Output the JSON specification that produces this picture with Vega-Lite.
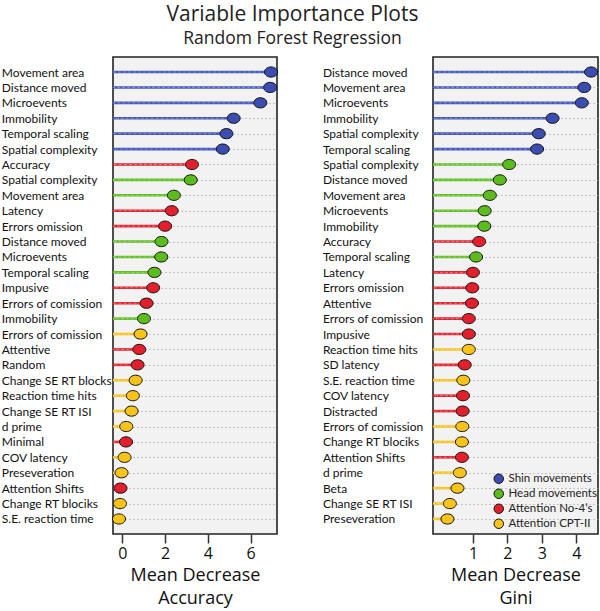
{
  "$schema": "https://vega.github.io/schema/vega-lite/v6.json",
  "padding": {"top": 3, "left": 0, "right": 0, "bottom": 0},
  "background": "white",
  "title": {"text": "Variable Importance Plots", "subtitle": "Random Forest Regression", "anchor": "middle", "font": "Open Sans", "fontSize": 21, "fontWeight": "normal", "subtitleFont": "Open Sans", "subtitleFontSize": 17.5, "color": "#222", "subtitleColor": "#222", "subtitlePadding": 5, "offset": 9, "dx": -8},
  "datasets": {
    "acc": [
      {"key": "01|Movement area", "group": "Shin movements", "value": 6.96},
      {"key": "02|Distance moved", "group": "Shin movements", "value": 6.92},
      {"key": "03|Microevents", "group": "Shin movements", "value": 6.46},
      {"key": "04|Immobility", "group": "Shin movements", "value": 5.21},
      {"key": "05|Temporal scaling", "group": "Shin movements", "value": 4.87},
      {"key": "06|Spatial complexity", "group": "Shin movements", "value": 4.70},
      {"key": "07|Accuracy", "group": "Attention No-4’s", "value": 3.26},
      {"key": "08|Spatial complexity", "group": "Head movements", "value": 3.20},
      {"key": "09|Movement area", "group": "Head movements", "value": 2.41},
      {"key": "10|Latency", "group": "Attention No-4’s", "value": 2.31},
      {"key": "11|Errors omission", "group": "Attention No-4’s", "value": 2.00},
      {"key": "12|Distance moved", "group": "Head movements", "value": 1.83},
      {"key": "13|Microevents", "group": "Head movements", "value": 1.82},
      {"key": "14|Temporal scaling", "group": "Head movements", "value": 1.50},
      {"key": "15|Impusive", "group": "Attention No-4’s", "value": 1.44},
      {"key": "16|Errors of comission", "group": "Attention No-4’s", "value": 1.13},
      {"key": "17|Immobility", "group": "Head movements", "value": 1.01},
      {"key": "18|Errors of comission", "group": "Attention CPT-II", "value": 0.85},
      {"key": "19|Attentive", "group": "Attention No-4’s", "value": 0.79},
      {"key": "20|Random", "group": "Attention No-4’s", "value": 0.71},
      {"key": "21|Change SE RT blocks", "group": "Attention CPT-II", "value": 0.62},
      {"key": "22|Reaction time hits", "group": "Attention CPT-II", "value": 0.49},
      {"key": "23|Change SE RT ISI", "group": "Attention CPT-II", "value": 0.43},
      {"key": "24|d prime", "group": "Attention CPT-II", "value": 0.18},
      {"key": "25|Minimal", "group": "Attention No-4’s", "value": 0.17},
      {"key": "26|COV latency", "group": "Attention CPT-II", "value": 0.10},
      {"key": "27|Preseveration", "group": "Attention CPT-II", "value": -0.04},
      {"key": "28|Attention Shifts", "group": "Attention No-4’s", "value": -0.09},
      {"key": "29|Change RT blociks", "group": "Attention CPT-II", "value": -0.11},
      {"key": "30|S.E. reaction time", "group": "Attention CPT-II", "value": -0.16}
    ],
    "gini": [
      {"key": "01|Distance moved", "group": "Shin movements", "value": 4.43},
      {"key": "02|Movement area", "group": "Shin movements", "value": 4.23},
      {"key": "03|Microevents", "group": "Shin movements", "value": 4.16},
      {"key": "04|Immobility", "group": "Shin movements", "value": 3.31},
      {"key": "05|Spatial complexity", "group": "Shin movements", "value": 2.91},
      {"key": "06|Temporal scaling", "group": "Shin movements", "value": 2.86},
      {"key": "07|Spatial complexity", "group": "Head movements", "value": 2.05},
      {"key": "08|Distance moved", "group": "Head movements", "value": 1.78},
      {"key": "09|Movement area", "group": "Head movements", "value": 1.49},
      {"key": "10|Microevents", "group": "Head movements", "value": 1.34},
      {"key": "11|Immobility", "group": "Head movements", "value": 1.33},
      {"key": "12|Accuracy", "group": "Attention No-4’s", "value": 1.18},
      {"key": "13|Temporal scaling", "group": "Head movements", "value": 1.09},
      {"key": "14|Latency", "group": "Attention No-4’s", "value": 1.00},
      {"key": "15|Errors omission", "group": "Attention No-4’s", "value": 0.98},
      {"key": "16|Attentive", "group": "Attention No-4’s", "value": 0.97},
      {"key": "17|Errors of comission", "group": "Attention No-4’s", "value": 0.88},
      {"key": "18|Impusive", "group": "Attention No-4’s", "value": 0.88},
      {"key": "19|Reaction time hits", "group": "Attention CPT-II", "value": 0.88},
      {"key": "20|SD latency", "group": "Attention No-4’s", "value": 0.76},
      {"key": "21|S.E. reaction time", "group": "Attention CPT-II", "value": 0.72},
      {"key": "22|COV latency", "group": "Attention No-4’s", "value": 0.71},
      {"key": "23|Distracted", "group": "Attention No-4’s", "value": 0.70},
      {"key": "24|Errors of comission", "group": "Attention CPT-II", "value": 0.69},
      {"key": "25|Change RT blociks", "group": "Attention CPT-II", "value": 0.68},
      {"key": "26|Attention Shifts", "group": "Attention No-4’s", "value": 0.68},
      {"key": "27|d prime", "group": "Attention CPT-II", "value": 0.62},
      {"key": "28|Beta", "group": "Attention CPT-II", "value": 0.55},
      {"key": "29|Change SE RT ISI", "group": "Attention CPT-II", "value": 0.33},
      {"key": "30|Preseveration", "group": "Attention CPT-II", "value": 0.26}
    ]
  },
  "spacing": 40,
  "resolve": {"scale": {"x": "independent", "y": "independent", "stroke": "independent", "color": "independent"}, "legend": {"stroke": "independent", "color": "independent"}},
  "hconcat": [
    {
      "width": 164,
      "height": 477,
      "data": {"name": "acc"},
      "encoding": {
        "y": {"field": "key", "type": "ordinal", "sort": "ascending", "scale": {"type": "point", "padding": 0.975}, "axis": {"title": null, "labelPadding": 111.7, "labelExpr": "split(datum.value, '|')[1]"}}
      },
      "layer": [
        {
          "mark": {"type": "rule", "strokeWidth": 2.6},
          "encoding": {
            "x": {"field": "value", "type": "quantitative", "scale": {"domain": [-0.44, 7.24], "nice": false, "zero": false}, "axis": {"values": [0, 2, 4, 6], "title": ["Mean Decrease", "Accuracy"]}},
            "x2": {"datum": -0.44},
            "stroke": {"field": "group", "type": "nominal", "scale": {"domain": ["Attention CPT-II", "Attention No-4’s", "Head movements", "Shin movements"], "range": ["#f7c21c", "#e2232f", "#5fbe22", "#4456bb"]}, "legend": null}
          }
        },
        {
          "mark": {"type": "rule", "strokeWidth": 1, "strokeDash": [3, 2], "color": "white", "opacity": 0.35},
          "encoding": {"x": {"field": "value", "type": "quantitative"}, "x2": {"datum": -0.44}}
        },
        {
          "mark": {"type": "point", "filled": true, "shape": "M -1 0 A 1 0.78 0 1 1 1 0 A 1 0.78 0 1 1 -1 0 Z", "size": 170, "stroke": "#111", "strokeWidth": 1, "opacity": 1},
          "encoding": {
            "x": {"field": "value", "type": "quantitative"},
            "color": {"field": "group", "type": "nominal", "scale": {"domain": ["Shin movements", "Head movements", "Attention No-4’s", "Attention CPT-II"], "range": ["#3b4db0", "#5cbc1e", "#e11f2d", "#f8c31b"]}, "legend": null}
          }
        }
      ]
    },
    {
      "width": 165,
      "height": 477,
      "data": {"name": "gini"},
      "encoding": {
        "y": {"field": "key", "type": "ordinal", "sort": "ascending", "scale": {"type": "point", "padding": 0.975}, "axis": {"title": null, "labelPadding": 110.6, "labelExpr": "split(datum.value, '|')[1]"}}
      },
      "layer": [
        {
          "mark": {"type": "rule", "strokeWidth": 2.6},
          "encoding": {
            "x": {"field": "value", "type": "quantitative", "scale": {"domain": [-0.16, 4.63], "nice": false, "zero": false}, "axis": {"values": [1, 2, 3, 4], "title": ["Mean Decrease", "Gini"]}},
            "x2": {"datum": -0.16},
            "stroke": {"field": "group", "type": "nominal", "scale": {"domain": ["Attention CPT-II", "Attention No-4’s", "Head movements", "Shin movements"], "range": ["#f7c21c", "#e2232f", "#5fbe22", "#4456bb"]}, "legend": null}
          }
        },
        {
          "mark": {"type": "rule", "strokeWidth": 1, "strokeDash": [3, 2], "color": "white", "opacity": 0.35},
          "encoding": {"x": {"field": "value", "type": "quantitative"}, "x2": {"datum": -0.16}}
        },
        {
          "mark": {"type": "point", "filled": true, "shape": "M -1 0 A 1 0.78 0 1 1 1 0 A 1 0.78 0 1 1 -1 0 Z", "size": 170, "stroke": "#111", "strokeWidth": 1, "opacity": 1},
          "encoding": {
            "x": {"field": "value", "type": "quantitative"},
            "color": {"field": "group", "type": "nominal", "scale": {"domain": ["Shin movements", "Head movements", "Attention No-4’s", "Attention CPT-II"], "range": ["#3b4db0", "#5cbc1e", "#e11f2d", "#f8c31b"]},
              "legend": {"title": null, "orient": "none", "legendX": 60, "legendY": 416, "symbolType": "circle", "symbolSize": 90, "symbolStrokeColor": "#111", "symbolStrokeWidth": 1, "symbolOpacity": 1, "labelFont": "Lato", "labelFontSize": 11.5, "labelColor": "#222", "rowPadding": 1, "labelOffset": 4, "labelLimit": 200, "padding": 0}}
          }
        }
      ]
    }
  ],
  "config": {
    "view": {"fill": "#f2f2f2", "stroke": "#222", "strokeWidth": 1.6},
    "axisY": {"domain": false, "ticks": false, "labelAlign": "left", "labelFont": "Lato", "labelFontSize": 12, "labelColor": "#111", "grid": true, "gridDash": [1, 3], "gridColor": "#999", "gridWidth": 1, "labelLimit": 300, "labelOverlap": false},
    "axisX": {"domain": false, "grid": false, "ticks": true, "tickSize": 9, "tickWidth": 1.5, "tickColor": "#333", "labelFont": "Open Sans", "labelFontSize": 16, "labelColor": "#111", "labelPadding": 2, "titleFont": "Open Sans", "titleFontSize": 18, "titleFontWeight": "normal", "titleColor": "#111", "titleLineHeight": 23, "titlePadding": 5}
  }
}
